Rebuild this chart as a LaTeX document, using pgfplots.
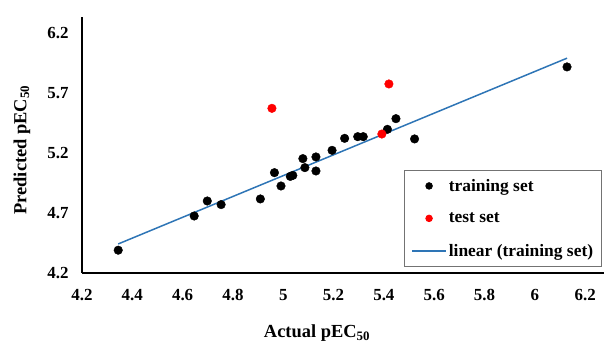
\documentclass[border=0pt]{standalone}
\usepackage{pgfplots}
\pgfplotsset{compat=1.18}
\usepackage{fontspec}
\setmainfont{Liberation Serif}
\definecolor{lineblue}{RGB}{46,117,182}
\pgfplotsset{
  dotleg/.style={legend image code/.code={\draw[mark repeat=2,mark phase=2,##1,mark size=3.3bp] plot coordinates {(0cm,0cm) (0.6cm,0cm) (1.2cm,0cm)};}},
  lineleg/.style={legend image code/.code={\draw[##1] (0cm,0cm) -- (1.2cm,0cm);}},
}
\begin{document}
\begin{tikzpicture}
\useasboundingbox (-82bp,-72bp) rectangle (522bp,273bp);
\begin{axis}[
  scale only axis, width=522bp, height=256bp,
  xmin=4.2, xmax=6.275, ymin=4.2, ymax=6.333,
  axis x line*=bottom, axis y line*=left,
  axis line style={line width=1.2bp, black},
  xtick={4.2,4.4,4.6,4.8,5,5.2,5.4,5.6,5.8,6,6.2},
  ytick={4.2,4.7,5.2,5.7,6.2},
  major tick length=0pt,
  /pgf/number format/assume math mode=true,
  tick label style={font=\fontsize{17}{17}\selectfont\bfseries},
  xticklabel style={yshift=-13bp},
  yticklabel style={xshift=-10bp},
  legend style={at={(0.9962,0.0234)}, anchor=south east, draw=black!55, line width=0.8bp,
    font=\fontsize{17.5}{18}\selectfont\bfseries, row sep=16bp, inner xsep=6.5bp, inner ysep=7bp},
  legend cell align=left,
]
\addplot[only marks, mark=*, mark size=4.3bp, black, dotleg]
coordinates {
(4.344,4.39) (4.646,4.675) (4.698,4.80) (4.753,4.77) (4.909,4.817)
(4.965,5.036) (4.991,4.925) (5.028,5.005) (5.038,5.013) (5.078,5.153)
(5.086,5.078) (5.130,5.167) (5.130,5.05) (5.194,5.222) (5.244,5.322)
(5.296,5.336) (5.318,5.336) (5.414,5.397) (5.448,5.486) (5.522,5.317)
(6.128,5.917)
};
\addlegendentry{training set}
\addplot[only marks, mark=*, mark size=4.3bp, red, dotleg]
coordinates {(4.955,5.572) (5.42,5.775) (5.392,5.358)};
\addlegendentry{test set}
\addplot[lineblue, line width=1.5bp, lineleg]
coordinates {(4.344,4.442) (6.128,5.99)};
\addlegendentry{linear (training set)}
\end{axis}
\node[font=\fontsize{18.5}{19}\selectfont\bfseries] at (235bp,-60bp) {Actual pEC\textsubscript{50}};
\node[font=\fontsize{18.5}{19}\selectfont\bfseries, rotate=90] at (-60bp,123bp) {Predicted pEC\textsubscript{50}};
\end{tikzpicture}
\end{document}
